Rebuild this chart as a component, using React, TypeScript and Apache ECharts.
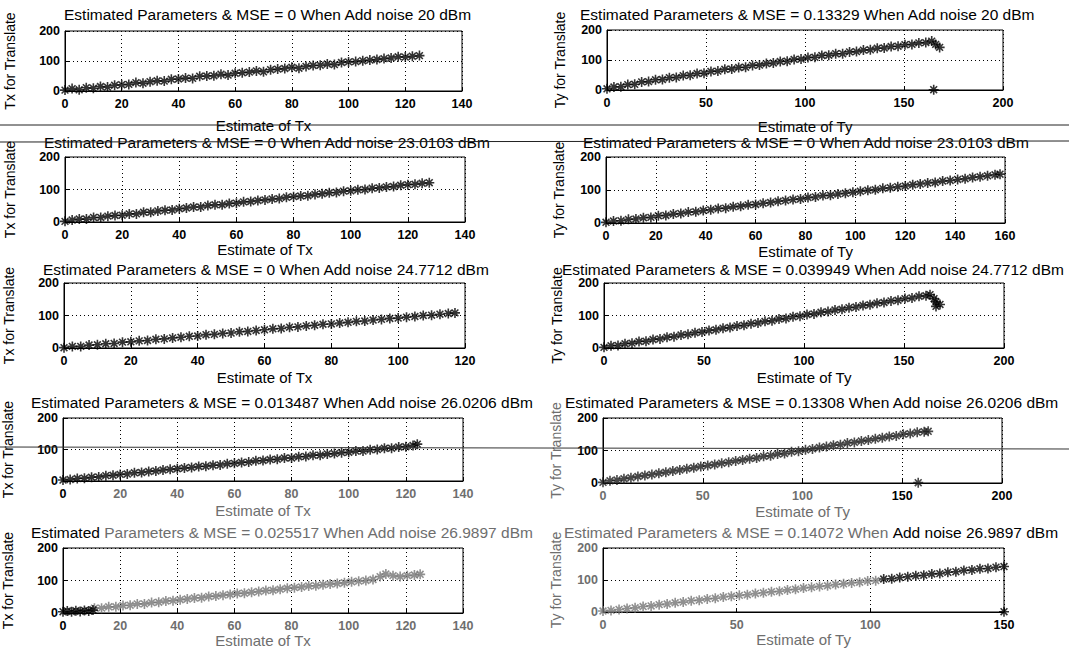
import React, { useEffect, useRef } from "react";
import * as echarts from "echarts";

const FONT = '"Liberation Sans", Arial, Helvetica, sans-serif';

// ---------- data ----------
const tx20: number[][] = [[0,3],[2.5,8],[5,4],[7.5,11],[10,9],[12.5,15],[15,13],[17.5,19],[20,21],[22.5,22],[25,28],[27.5,26],[30,31],[32.5,34],[35,33],[37.5,39],[40,40],[42.5,43],[45,42],[47.5,49],[50,50],[52.5,51],[55,56],[57.5,53],[60,59],[62.5,61],[65,63],[67.5,67],[70,64],[72.5,71],[75,73],[77.5,75],[80,79],[82.5,76],[85,82],[87.5,85],[90,86],[92.5,90],[95,88],[97.5,95],[100,97],[102.5,98],[105,101],[107.5,103],[110,105],[112.5,108],[115,110],[117.5,114],[120,113],[122.5,116],[125,118]];
const ty20: number[][] = [[0,4],[3.5,10],[7,11],[10.5,18],[14,19],[17.5,27],[21,28],[24.5,34],[28,35],[31.5,41],[35,42],[38.5,48],[42,49],[45.5,55],[49,56],[52.5,62],[56,63],[59.5,69],[63,70],[66.5,75],[70,76],[73.5,82],[77,83],[80.5,88],[84,90],[87.5,95],[91,96],[94.5,102],[98,103],[101.5,108],[105,109],[108.5,115],[112,116],[115.5,121],[119,121],[122.5,127],[126,128],[129.5,133],[133,134],[136.5,139],[140,140],[143.5,145],[147,146],[150.5,151],[154,152],[157.5,157],[161,158],[164,163],[166,152],[168,142],[165,1]];
const tx23: number[][] = [[0,2],[2.5,6],[5,9],[7.5,9],[10,14],[12.5,14],[15,18],[17.5,20],[20,21],[22.5,25],[25,25],[27.5,30],[30,30],[32.5,34],[35,36],[37.5,37],[40,41],[42.5,43],[45,46],[47.5,46],[50,51],[52.5,53],[55,53],[57.5,57],[60,58],[62.5,62],[65,63],[67.5,66],[70,68],[72.5,71],[75,72],[77.5,76],[80,78],[82.5,80],[85,81],[87.5,85],[90,87],[92.5,90],[95,91],[97.5,95],[100,96],[102.5,99],[105,100],[107.5,104],[110,105],[112.5,108],[115,109],[117.5,113],[120,115],[122.5,116],[125,119],[127.5,121]];
const ty23: number[][] = [[0,2],[3,6],[6,7],[9,11],[12,12],[15,16],[18,17],[21,22],[24,23],[27,27],[30,29],[33,33],[36,34],[39,38],[42,40],[45,44],[48,45],[51,49],[54,51],[57,55],[60,56],[63,60],[66,62],[69,66],[72,68],[75,71],[78,73],[81,77],[84,79],[87,83],[90,84],[93,88],[96,90],[99,93],[102,96],[105,99],[108,101],[111,105],[114,107],[117,110],[120,112],[123,116],[126,118],[129,121],[132,123],[135,127],[138,129],[141,132],[144,134],[147,138],[150,140],[153,143],[156,146],[158,148]];
const tx24: number[][] = [[0,1],[2.5,5],[5,5],[7.5,9],[10,10],[12.5,13],[15,14],[17.5,18],[20,19],[22.5,22],[25,23],[27.5,27],[30,28],[32.5,31],[35,33],[37.5,36],[40,37],[42.5,41],[45,42],[47.5,45],[50,46],[52.5,50],[55,51],[57.5,54],[60,56],[62.5,59],[65,60],[67.5,64],[70,65],[72.5,68],[75,70],[77.5,73],[80,74],[82.5,77],[85,79],[87.5,82],[90,83],[92.5,86],[95,88],[97.5,91],[100,92],[102.5,95],[105,97],[107.5,100],[110,101],[112.5,104],[115,106],[117,108]];
const ty24: number[][] = [[0,2],[3.5,7],[7,8],[10.5,13],[14,15],[17.5,20],[21,21],[24.5,26],[28,28],[31.5,33],[35,35],[38.5,40],[42,42],[45.5,47],[49,49],[52.5,54],[56,56],[59.5,61],[63,63],[66.5,68],[70,70],[73.5,75],[77,77],[80.5,82],[84,84],[87.5,89],[91,91],[94.5,96],[98,98],[101.5,103],[105,105],[108.5,110],[112,112],[115.5,117],[119,119],[122.5,124],[126,126],[129.5,131],[133,133],[136.5,138],[140,140],[143.5,145],[147,147],[150.5,152],[154,154],[157.5,159],[161,161],[163,164],[165,152],[166,142],[168,134],[166,128]];
const tx26a: number[][] = [[0,3],[2.5,5],[5,8],[7.5,9],[10,12],[12.5,13],[15,17],[17.5,18],[20,21],[22.5,22],[25,26],[27.5,27],[30,30],[32.5,32],[35,35],[37.5,37],[40,39],[42.5,41],[45,43],[47.5,46],[50,47],[52.5,50],[55,51],[57.5,55],[60,56],[62.5,59],[65,60],[67.5,64],[70,65],[72.5,68],[75,69],[77.5,73],[80,73],[82.5,77],[85,78],[87.5,82],[90,82],[92.5,86],[95,87],[97.5,90],[100,91],[102.5,95],[105,95],[107.5,99],[110,100],[112.5,104],[115,104],[117.5,108],[120,109],[122.5,113],[124,117]];
const ty26a: number[][] = [[0,2],[3.5,7],[7,9],[10.5,13],[14,16],[17.5,20],[21,23],[24.5,26],[28,30],[31.5,33],[35,37],[38.5,40],[42,44],[45.5,47],[49,51],[52.5,54],[56,57],[59.5,61],[63,64],[66.5,68],[70,71],[73.5,75],[77,77],[80.5,82],[84,84],[87.5,89],[91,91],[94.5,96],[98,98],[101.5,102],[105,105],[108.5,109],[112,112],[115.5,116],[119,118],[122.5,123],[126,125],[129.5,129],[133,132],[136.5,136],[140,139],[143.5,143],[147,145],[150.5,150],[154,152],[157.5,156],[161,158],[163,159],[158,1]];
const tx26bDark: number[][] = [[0,4],[1.5,6],[3,4],[4.5,7],[6,5],[7.5,8],[9,6],[10.5,9]];
const tx26bLight: number[][] = [[11,15],[13.5,15],[16,19],[18.5,19],[21,23],[23.5,24],[26,28],[28.5,28],[31,32],[33.5,33],[36,37],[38.5,38],[41,41],[43.5,43],[46,46],[48.5,47],[51,51],[53.5,52],[56,55],[58.5,57],[61,60],[63.5,61],[66,64],[68.5,66],[71,69],[73.5,70],[76,73],[78.5,76],[81,78],[83.5,80],[86,83],[88.5,84],[91,87],[93.5,89],[96,91],[98.5,93],[101,96],[103.5,98],[106,100],[108.5,103],[111,112],[113,120],[115.5,115],[118,112],[120.5,115],[123,117],[125,119]];
const ty26bLight: number[][] = [[0,3],[3,5],[6,8],[9,11],[12,13],[15,17],[18,19],[21,23],[24,25],[27,29],[30,31],[33,35],[36,37],[39,41],[42,43],[45,47],[48,49],[51,52],[54,54],[57,58],[60,60],[63,63],[66,65],[69,69],[72,71],[75,75],[78,77],[81,80],[84,82],[87,86],[90,88],[93,91],[96,93],[99,97],[102,98]];
const ty26bDark: number[][] = [[105,103],[108,104],[111,108],[114,110],[117,113],[120,115],[123,119],[126,120],[129,124],[132,126],[135,130],[138,131],[141,135],[144,136],[147,140],[150,142],[150,1]];

const titleTexts = [
  "Estimated Parameters & MSE = 0 When Add noise 20 dBm",
  "Estimated Parameters & MSE = 0.13329 When Add noise 20 dBm",
  "Estimated Parameters & MSE = 0 When Add noise 23.0103 dBm",
  "Estimated Parameters & MSE = 0 When Add noise 23.0103 dBm",
  "Estimated Parameters & MSE = 0 When Add noise 24.7712 dBm",
  "Estimated Parameters & MSE = 0.039949 When Add noise 24.7712 dBm",
  "Estimated Parameters & MSE = 0.013487 When Add noise 26.0206 dBm",
  "Estimated Parameters & MSE = 0.13308 When Add noise 26.0206 dBm",
  "Estimated Parameters & MSE = 0.025517 When Add noise 26.9897 dBm",
  "Estimated Parameters & MSE = 0.14072 When Add noise 26.9897 dBm",
];
const xNames = ["Estimate of Tx", "Estimate of Ty"];
const yNames = ["Tx for Translate", "Ty for Translate"];
const xMaxes = [140, 200, 140, 160, 120, 200, 140, 200, 140, 150];
const xSteps = [20, 50, 20, 20, 20, 50, 20, 50, 20, 50];
const yMax = 200;
const yStep = 100;

// ---------- layout & style ----------
const BLACK = "#000";
const GRAY = "#6e6e6e";
const grids = [
  { left: 65, top: 31, width: 397, height: 60 },
  { left: 607, top: 30, width: 396, height: 60 },
  { left: 65, top: 157, width: 400, height: 65 },
  { left: 606, top: 157, width: 399, height: 66 },
  { left: 64, top: 283, width: 401, height: 65 },
  { left: 604, top: 283, width: 400, height: 65 },
  { left: 63, top: 418, width: 400, height: 63 },
  { left: 603, top: 418, width: 399, height: 65 },
  { left: 62, top: 548, width: 401, height: 65 },
  { left: 603, top: 548, width: 401, height: 64 },
];
const titlePos = [
  { left: 64, top: 6 }, { left: 580, top: 6 },
  { left: 44, top: 134 }, { left: 583, top: 134 },
  { left: 43, top: 261 }, { left: 562, top: 261 },
  { left: 31, top: 394 }, { left: 565, top: 394 },
  { left: 31, top: 524 }, { left: 564, top: 524 },
];
const xNameGaps = [27, 29, 20, 21, 22, 22, 22, 21, 20, 20];
const yNameGaps = [48, 40, 48, 40, 48, 40, 48, 40, 48, 40];

const xLabelColor = (i: number) => (v: any) => {
  const n = Number(v);
  if (i === 6 || i === 8) return n === 0 ? BLACK : GRAY;
  if (i === 7) return n >= 150 ? BLACK : GRAY;
  if (i === 9) return n >= 150 ? BLACK : GRAY;
  return BLACK;
};
const yLabelColor = (i: number) => (i === 9 ? GRAY : BLACK);
const xNameColor = (i: number) => (i >= 6 ? GRAY : BLACK);
const yNameColor = (i: number) => (i === 7 || i === 9 ? GRAY : BLACK);

const STAR = "path://M5,0L5,10M0,5L10,5M1.6,1.6L8.4,8.4M1.6,8.4L8.4,1.6";

const seriesSpec: { data: number[][]; color: string; panel: number }[] = [
  { data: tx20, color: BLACK, panel: 0 },
  { data: ty20, color: BLACK, panel: 1 },
  { data: tx23, color: BLACK, panel: 2 },
  { data: ty23, color: BLACK, panel: 3 },
  { data: tx24, color: BLACK, panel: 4 },
  { data: ty24, color: BLACK, panel: 5 },
  { data: tx26a, color: BLACK, panel: 6 },
  { data: ty26a, color: "#1a1a1a", panel: 7 },
  { data: tx26bLight, color: "#747474", panel: 8 },
  { data: tx26bDark, color: BLACK, panel: 8 },
  { data: ty26bLight, color: "#747474", panel: 9 },
  { data: ty26bDark, color: BLACK, panel: 9 },
];

const TITLE_SIZE = 15.5;

function buildTitle(i: number) {
  const t = titleTexts[i];
  const base = {
    left: titlePos[i].left,
    top: titlePos[i].top,
    padding: 0,
    textStyle: { fontFamily: FONT, fontSize: TITLE_SIZE, fontWeight: "normal" as const, color: BLACK },
  };
  const rich = {
    k: { fontFamily: FONT, fontSize: TITLE_SIZE, color: BLACK },
    g: { fontFamily: FONT, fontSize: TITLE_SIZE, color: GRAY },
  };
  if (i === 8) {
    const rest = t.slice("Estimated ".length);
    return { ...base, text: "{k|Estimated} {g|" + rest + "}", textStyle: { ...base.textStyle, rich } };
  }
  if (i === 9) {
    const idx = t.indexOf("Add noise");
    return { ...base, text: "{g|" + t.slice(0, idx) + "}{k|" + t.slice(idx) + "}", textStyle: { ...base.textStyle, rich } };
  }
  return { ...base, text: t };
}

function buildOption() {
  const n = grids.length;
  const dotted = { type: [1, 3] as number[], color: BLACK, width: 1 };
  return {
    animation: false,
    backgroundColor: "#fff",
    textStyle: { fontFamily: FONT },
    title: Array.from({ length: n }, (_, i) => buildTitle(i)),
    grid: grids.map((g) => ({ ...g, show: true, borderColor: BLACK, borderWidth: 1, containLabel: false })),
    xAxis: Array.from({ length: n }, (_, i) => ({
      type: "value",
      gridIndex: i,
      min: 0,
      max: xMaxes[i],
      interval: xSteps[i],
      name: xNames[i % 2],
      nameLocation: "middle",
      nameGap: xNameGaps[i],
      nameTextStyle: { fontFamily: FONT, fontSize: 15, color: xNameColor(i) },
      axisLine: { show: true, onZero: false, lineStyle: { color: BLACK, width: 1 } },
      axisTick: { show: true, inside: true, length: 4, lineStyle: { color: BLACK } },
      axisLabel: { fontFamily: FONT, fontSize: 12.5, fontWeight: "bold", margin: 6, color: xLabelColor(i), showMinLabel: true, showMaxLabel: true },
      splitLine: { show: true, lineStyle: dotted },
    })),
    yAxis: Array.from({ length: n }, (_, i) => ({
      type: "value",
      gridIndex: i,
      min: 0,
      max: yMax,
      interval: yStep,
      name: yNames[i % 2],
      nameLocation: "middle",
      nameGap: yNameGaps[i],
      nameTextStyle: { fontFamily: FONT, fontSize: 14, color: yNameColor(i) },
      axisLine: { show: true, onZero: false, lineStyle: { color: BLACK, width: 1 } },
      axisTick: { show: true, inside: true, length: 4, lineStyle: { color: BLACK } },
      axisLabel: { fontFamily: FONT, fontSize: 12.5, fontWeight: "bold", margin: 5, color: yLabelColor(i), showMinLabel: true, showMaxLabel: true },
      splitLine: { show: true, lineStyle: dotted },
    })),
    series: seriesSpec.map((s) => ({
      type: "scatter",
      xAxisIndex: s.panel,
      yAxisIndex: s.panel,
      data: s.data,
      symbol: STAR,
      symbolSize: 10,
      itemStyle: { color: s.color, borderColor: s.color, borderWidth: 1.6 },
      emphasis: { disabled: true },
      silent: true,
    })),
    graphic: [
      { type: "line", silent: true, z: 100, shape: { x1: 0, y1: 125, x2: 1069, y2: 125 }, style: { stroke: "#222", lineWidth: 1 } },
      { type: "line", silent: true, z: 100, shape: { x1: 0, y1: 142, x2: 1069, y2: 141 }, style: { stroke: "#222", lineWidth: 1 } },
      { type: "line", silent: true, z: 100, shape: { x1: 0, y1: 447, x2: 1069, y2: 449 }, style: { stroke: "#333", lineWidth: 1 } },
    ],
  };
}

export default function App() {
  const ref = useRef<HTMLDivElement>(null);
  useEffect(() => {
    document.body.style.margin = "0";
    if (!ref.current) return;
    const chart = echarts.init(ref.current, undefined, { renderer: "svg" });
    chart.setOption(buildOption() as any);
    return () => chart.dispose();
  }, []);
  return <div ref={ref} style={{ width: 1069, height: 655 }} />;
}
